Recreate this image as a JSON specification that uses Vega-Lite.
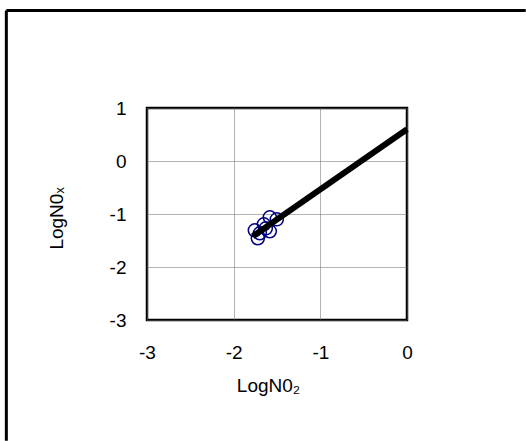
{
  "$schema": "https://vega.github.io/schema/vega-lite/v6.json",
  "width": 260,
  "height": 212,
  "autosize": {"type": "none"},
  "padding": {"left": 147, "top": 108, "right": 119, "bottom": 121},
  "background": "white",
  "config": {
    "view": {"stroke": "black", "strokeWidth": 2.5},
    "font": "Liberation Sans"
  },
  "datasets": {
    "obs": [
      {"LogNO2": -1.756, "LogNOx": -1.308},
      {"LogNO2": -1.721, "LogNOx": -1.458},
      {"LogNO2": -1.698, "LogNOx": -1.364},
      {"LogNO2": -1.652, "LogNOx": -1.194},
      {"LogNO2": -1.583, "LogNOx": -1.062},
      {"LogNO2": -1.502, "LogNOx": -1.100},
      {"LogNO2": -1.583, "LogNOx": -1.326},
      {"LogNO2": -1.629, "LogNOx": -1.270}
    ],
    "fit": [
      {"LogNO2": -1.78, "LogNOx": -1.42},
      {"LogNO2": 0, "LogNOx": 0.60}
    ],
    "frame": [{}]
  },
  "layer": [
    {
      "data": {"name": "frame"},
      "mark": {"type": "rule", "color": "black", "strokeWidth": 3, "clip": false},
      "encoding": {
        "x": {"datum": -4.623, "type": "quantitative", "scale": {"domain": [-3, 0], "nice": false, "zero": false}},
        "y": {"datum": 2.84, "type": "quantitative", "scale": {"domain": [-3, 1], "nice": false, "zero": false}},
        "y2": {"datum": -5.28}
      }
    },
    {
      "data": {"name": "frame"},
      "mark": {"type": "rule", "color": "black", "strokeWidth": 3, "clip": false},
      "encoding": {
        "x": {"datum": -4.623, "type": "quantitative", "scale": {"domain": [-3, 0], "nice": false, "zero": false}},
        "x2": {"datum": 1.37},
        "y": {"datum": 2.84, "type": "quantitative", "scale": {"domain": [-3, 1], "nice": false, "zero": false}}
      }
    },
    {
      "data": {"name": "obs"},
      "mark": {"type": "point", "shape": "circle", "filled": false, "color": "#000080", "strokeWidth": 1.5, "size": 170, "opacity": 1},
      "encoding": {
        "x": {
          "field": "LogNO2", "type": "quantitative",
          "scale": {"domain": [-3, 0], "nice": false, "zero": false},
          "axis": {
            "title": "LogN0₂", "values": [-3, -2, -1, 0], "grid": true, "gridDash": [1, 1], "gridColor": "#666666", "gridWidth": 1,
            "labelExpr": "datum.value < 0 ? '-' + abs(datum.value) : '' + datum.value",
            "ticks": false, "domain": false, "labelPadding": 23, "labelFontSize": 19, "labelColor": "black", "labelFlush": false,
            "titleFontSize": 19, "titleFontWeight": "normal", "titleColor": "black", "titlePadding": 14, "titleX": 121
          }
        },
        "y": {
          "field": "LogNOx", "type": "quantitative",
          "scale": {"domain": [-3, 1], "nice": false, "zero": false},
          "axis": {
            "title": "LogN0ₓ", "values": [-3, -2, -1, 0, 1], "grid": true, "gridDash": [1, 1], "gridColor": "#666666", "gridWidth": 1,
            "labelExpr": "datum.value < 0 ? '-' + abs(datum.value) : '' + datum.value",
            "ticks": false, "domain": false, "labelPadding": 21, "labelFontSize": 19, "labelColor": "black", "labelFlush": false,
            "titleFontSize": 19, "titleFontWeight": "normal", "titleColor": "black", "titlePadding": 43, "titleY": 110
          }
        }
      }
    },
    {
      "data": {"name": "fit"},
      "mark": {"type": "line", "color": "black", "strokeWidth": 6, "strokeCap": "butt"},
      "encoding": {
        "x": {"field": "LogNO2", "type": "quantitative", "scale": {"domain": [-3, 0], "nice": false, "zero": false}},
        "y": {"field": "LogNOx", "type": "quantitative", "scale": {"domain": [-3, 1], "nice": false, "zero": false}}
      }
    }
  ]
}
